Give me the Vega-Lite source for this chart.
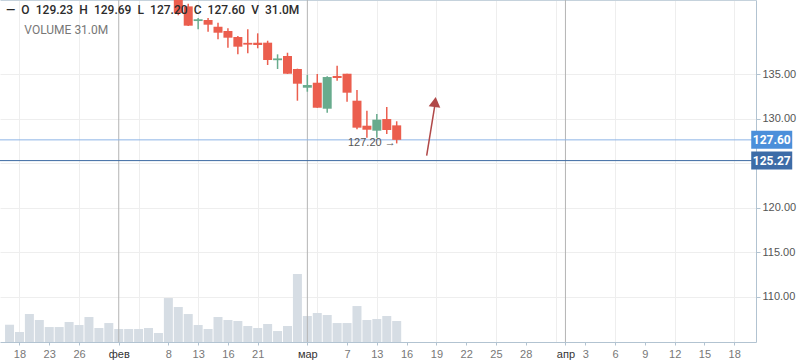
{
  "$schema": "https://vega.github.io/schema/vega-lite/v6.json",
  "width": 756,
  "height": 342,
  "autosize": {"type": "none"},
  "padding": {"left": 0, "top": 0, "right": 42, "bottom": 21},
  "background": "#ffffff",
  "config": {
    "view": {"stroke": null},
    "font": "Roboto",
    "axis": {"labelOverlap": false}
  },
  "title": {
    "text": "—\u2002O\u2002129.23\u2002H\u2002129.69\u2002L\u2002127.20\u2002C\u2002127.60\u2002V\u200231.0M",
    "subtitle": "\u200b\u2003\u2002VOLUME 31.0M",
    "anchor": "start",
    "frame": "group",
    "orient": "top",
    "offset": -37,
    "dx": 6,
    "fontSize": 12,
    "fontWeight": 500,
    "color": "#2b2b2b",
    "font": "Roboto",
    "subtitleFont": "Roboto",
    "subtitleFontSize": 12,
    "subtitleColor": "#777777",
    "subtitlePadding": 8
  },
  "datasets": {
    "bars": [
      {"i": 0, "v": 25.5}, {"i": 1, "v": 14.8}, {"i": 2, "v": 41.3}, {"i": 3, "v": 32.5},
      {"i": 4, "v": 22.1}, {"i": 5, "v": 22.1}, {"i": 6, "v": 29.5}, {"i": 7, "v": 25.1},
      {"i": 8, "v": 36.9}, {"i": 9, "v": 20.7}, {"i": 10, "v": 28.0}, {"i": 11, "v": 19.2},
      {"i": 12, "v": 19.2}, {"i": 13, "v": 19.2}, {"i": 14, "v": 20.7}, {"i": 15, "v": 13.3},
      {"i": 16, "v": 64.9},
      {"i": 17, "o": 144.0, "h": 144.3, "l": 141.6, "c": 141.85, "v": 51.7},
      {"i": 18, "o": 142.6, "h": 142.9, "l": 140.4, "c": 140.43, "v": 41.3},
      {"i": 19, "o": 140.95, "h": 141.3, "l": 140.02, "c": 141.15, "v": 25.1},
      {"i": 20, "o": 141.07, "h": 141.3, "l": 139.75, "c": 140.54, "v": 19.2},
      {"i": 21, "o": 140.31, "h": 140.76, "l": 138.9, "c": 139.64, "v": 36.9},
      {"i": 22, "o": 139.83, "h": 140.13, "l": 137.96, "c": 139.08, "v": 32.5},
      {"i": 23, "o": 139.16, "h": 139.27, "l": 137.21, "c": 138.07, "v": 31.0},
      {"i": 24, "o": 138.5, "h": 140.02, "l": 137.33, "c": 138.3, "v": 23.6},
      {"i": 25, "o": 138.52, "h": 139.57, "l": 137.89, "c": 138.26, "v": 20.7},
      {"i": 26, "o": 138.52, "h": 138.74, "l": 136.01, "c": 136.57, "v": 26.6},
      {"i": 27, "o": 136.55, "h": 137.21, "l": 135.56, "c": 136.75, "v": 16.2},
      {"i": 28, "o": 137.02, "h": 137.39, "l": 135.0, "c": 135.03, "v": 23.6},
      {"i": 29, "o": 135.56, "h": 135.6, "l": 132.0, "c": 133.91, "v": 100.4},
      {"i": 30, "o": 133.46, "h": 134.89, "l": 133.01, "c": 133.76, "v": 38.4},
      {"i": 31, "o": 134.02, "h": 135.0, "l": 131.2, "c": 131.21, "v": 42.8},
      {"i": 32, "o": 131.1, "h": 134.74, "l": 130.65, "c": 134.66, "v": 39.9},
      {"i": 33, "o": 134.78, "h": 135.93, "l": 134.25, "c": 134.55, "v": 28.0},
      {"i": 34, "o": 135.03, "h": 135.03, "l": 131.89, "c": 132.9, "v": 28.0},
      {"i": 35, "o": 132.0, "h": 133.2, "l": 128.79, "c": 128.97, "v": 53.1},
      {"i": 36, "o": 129.19, "h": 130.88, "l": 127.84, "c": 128.74, "v": 32.5},
      {"i": 37, "o": 128.63, "h": 130.51, "l": 127.84, "c": 129.87, "v": 34.0},
      {"i": 38, "o": 129.94, "h": 131.29, "l": 128.26, "c": 128.71, "v": 38.4},
      {"i": 39, "o": 129.23, "h": 129.69, "l": 127.2, "c": 127.6, "v": 31.0}
    ],
    "months": [
      {"i": 11, "m": "фев"},
      {"i": 30, "m": "мар"},
      {"i": 56, "m": "апр"}
    ],
    "levels": [
      {"p": 127.6, "label": "127.60", "kind": "last"},
      {"p": 125.27, "label": "125.27", "kind": "level"}
    ],
    "arrow": [
      {"x1": 42.02, "p1": 125.82, "x2": 42.83, "p2": 131.4, "xh": 42.87, "ph": 131.85}
    ],
    "low": [
      {"i": 39, "p": 127.2, "t": "127.20 →"}
    ]
  },
  "layer": [
    {
      "data": {"name": "bars"},
      "mark": {"type": "bar", "width": 9, "color": "#d6dde4", "opacity": 1},
      "encoding": {
        "x": {
          "field": "i", "type": "quantitative",
          "scale": {"domain": [-0.4573, 74.692], "nice": false, "zero": false},
          "axis": {
            "orient": "bottom",
            "title": null,
            "values": [1, 4, 7, 11, 16, 19, 22, 25, 30, 34, 37, 40, 43, 46, 49, 52, 56, 58, 61, 64, 67, 70, 73],
            "labelExpr": "['18','23','26','фев','8','13','16','21','мар','7','13','16','19','22','25','28','апр','3','6','9','12','15','18'][indexof([1,4,7,11,16,19,22,25,30,34,37,40,43,46,49,52,56,58,61,64,67,70,73], datum.value)]",
            "grid": false,
            "labelColor": {"condition": {"test": "datum.value==11||datum.value==30||datum.value==56", "value": "#333333"}, "value": "#777777"},
            "domainColor": "#b2c3d1",
            "tickColor": "#b2c3d1",
            "tickSize": 3,
            "labelFont": "Liberation Sans",
            "labelFontSize": 11,
            "labelPadding": 3,
            "labelOverlap": false,
            "labelFlush": false
          }
        },
        "y": {"field": "v", "type": "quantitative", "scale": {"domain": [0, 505], "nice": false, "zero": true}, "axis": null}
      }
    },
    {
      "layer": [
        {
          "data": {"name": "months"},
          "mark": {"type": "rule", "strokeWidth": 1, "color": "#b4b4b4", "opacity": 1},
          "encoding": {
            "x": {
              "field": "i", "type": "quantitative",
              "scale": {"domain": [-0.4573, 74.692], "nice": false, "zero": false},
              "axis": {
                "orient": "top",
                "title": null,
                "values": [1, 4, 7, 10, 13, 16, 19, 22, 25, 28, 31, 34, 37, 40, 43, 46, 49, 52, 55, 58, 61, 64, 67, 70, 73],
                "labels": false,
                "ticks": false,
                "domain": true,
                "domainColor": "#c5d2dc",
                "grid": true,
                "gridColor": "#eeeeee"
              }
            }
          }
        },
        {
          "data": {"name": "levels"},
          "mark": {"type": "rule", "strokeWidth": 1, "opacity": 1},
          "encoding": {
            "y": {
              "field": "p", "type": "quantitative",
              "scale": {"domain": [104.888, 143.315], "nice": false, "zero": false},
              "axis": {
                "orient": "right", "title": null,
                "values": [110, 115, 120, 125, 130, 135],
                "labelExpr": "datum.value == 125 ? '' : format(datum.value, '.2f')",
                "grid": true, "gridColor": "#eeeeee",
                "domainColor": "#b2c3d1", "tickColor": "#b2c3d1", "tickSize": 4,
                "labelColor": "#555555", "labelFont": "Liberation Sans", "labelFontSize": 11,
                "labelPadding": 2, "labelFlush": false, "labelOverlap": false
              }
            },
            "color": {"condition": {"test": "datum.kind == 'last'", "value": "#8db5e6"}, "value": "#3d6aa3"}
          }
        },
        {
          "data": {"name": "bars"},
          "mark": {"type": "rule", "strokeWidth": 1.5, "clip": true, "opacity": 1},
          "encoding": {
            "x": {"field": "i", "type": "quantitative", "scale": {"domain": [-0.4573, 74.692], "nice": false, "zero": false}},
            "y": {"field": "l", "type": "quantitative", "scale": {"domain": [104.888, 143.315], "nice": false, "zero": false}},
            "y2": {"field": "h"},
            "color": {"condition": {"test": "datum.c >= datum.o", "value": "#68ab8d"}, "value": "#eb5e4e"}
          }
        },
        {
          "data": {"name": "bars"},
          "mark": {"type": "bar", "width": 9, "clip": true, "opacity": 1},
          "encoding": {
            "x": {"field": "i", "type": "quantitative", "scale": {"domain": [-0.4573, 74.692], "nice": false, "zero": false}},
            "y": {"field": "o", "type": "quantitative", "scale": {"domain": [104.888, 143.315], "nice": false, "zero": false}},
            "y2": {"field": "c"},
            "color": {"condition": {"test": "datum.c >= datum.o", "value": "#68ab8d"}, "value": "#eb5e4e"}
          }
        },
        {
          "data": {"name": "low"},
          "mark": {"type": "text", "align": "right", "baseline": "middle", "dx": -1, "fontSize": 11, "font": "Liberation Sans", "color": "#555555"},
          "encoding": {
            "x": {"field": "i", "type": "quantitative", "scale": {"domain": [-0.4573, 74.692], "nice": false, "zero": false}},
            "y": {"field": "p", "type": "quantitative", "scale": {"domain": [104.888, 143.315], "nice": false, "zero": false}},
            "text": {"field": "t"}
          }
        },
        {
          "data": {"name": "arrow"},
          "mark": {"type": "rule", "strokeWidth": 1.5, "color": "#b04848", "opacity": 1},
          "encoding": {
            "x": {"field": "x1", "type": "quantitative", "scale": {"domain": [-0.4573, 74.692], "nice": false, "zero": false}},
            "x2": {"field": "x2"},
            "y": {"field": "p1", "type": "quantitative", "scale": {"domain": [104.888, 143.315], "nice": false, "zero": false}},
            "y2": {"field": "p2"}
          }
        },
        {
          "data": {"name": "arrow"},
          "mark": {"type": "point", "shape": "triangle-up", "filled": true, "size": 137, "angle": 7, "color": "#b04848", "opacity": 1},
          "encoding": {
            "x": {"field": "xh", "type": "quantitative", "scale": {"domain": [-0.4573, 74.692], "nice": false, "zero": false}},
            "y": {"field": "ph", "type": "quantitative", "scale": {"domain": [104.888, 143.315], "nice": false, "zero": false}}
          }
        },
        {
          "data": {"name": "levels"},
          "mark": {"type": "tick", "orient": "horizontal", "size": 41, "thickness": 18, "opacity": 1},
          "encoding": {
            "x": {"datum": 76.78, "type": "quantitative", "scale": {"domain": [-0.4573, 74.692], "nice": false, "zero": false}},
            "y": {"field": "p", "type": "quantitative", "scale": {"domain": [104.888, 143.315], "nice": false, "zero": false}},
            "color": {"condition": {"test": "datum.kind == 'last'", "value": "#4b8fda"}, "value": "#3d6ca7"}
          }
        },
        {
          "data": {"name": "levels"},
          "mark": {"type": "text", "align": "center", "baseline": "middle", "fontSize": 12, "fontWeight": "bold", "font": "Roboto", "color": "#ffffff"},
          "encoding": {
            "x": {"datum": 76.78, "type": "quantitative", "scale": {"domain": [-0.4573, 74.692], "nice": false, "zero": false}},
            "y": {"field": "p", "type": "quantitative", "scale": {"domain": [104.888, 143.315], "nice": false, "zero": false}},
            "text": {"field": "label"}
          }
        }
      ]
    }
  ],
  "resolve": {"scale": {"y": "independent"}, "axis": {"x": "independent"}}
}
